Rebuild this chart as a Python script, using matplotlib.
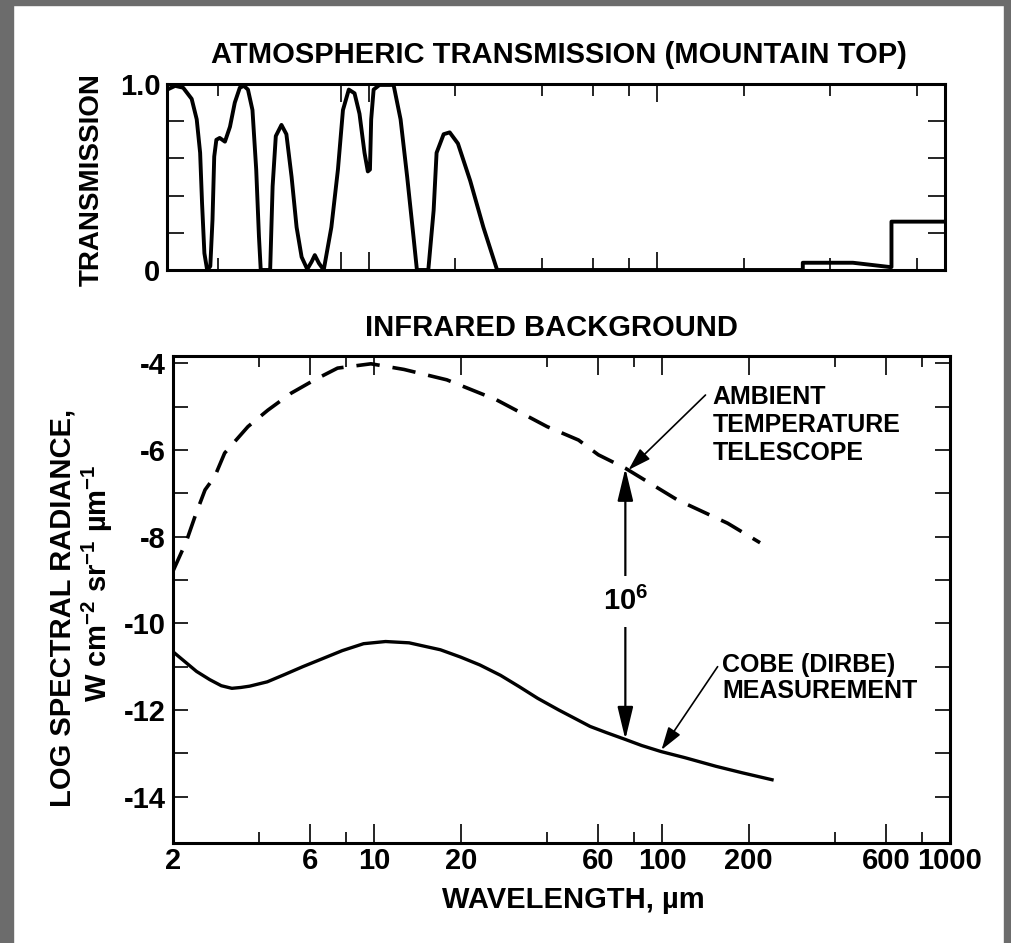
import matplotlib
matplotlib.use('Agg')
import matplotlib.pyplot as plt
from matplotlib.patches import Rectangle
from matplotlib.ticker import NullFormatter

plt.rcParams['font.family'] = ['Liberation Sans', 'DejaVu Sans']
plt.rcParams['font.weight'] = 'bold'
plt.rcParams['mathtext.fontset'] = 'custom'
plt.rcParams['mathtext.rm'] = 'Liberation Sans:bold'
plt.rcParams['mathtext.bf'] = 'Liberation Sans:bold'
plt.rcParams['mathtext.it'] = 'Liberation Sans:bold:italic'

# atmospheric transmission at a mountain-top site (wavelength in um, fraction)
trans_wl = [2.00, 2.13, 2.27, 2.43, 2.53, 2.60, 2.64, 2.69, 2.75, 2.82, 2.87, 2.91,
            2.96, 3.04, 3.17, 3.30, 3.43, 3.57, 3.69, 3.81, 3.95, 4.07, 4.16, 4.22,
            4.55, 4.64, 4.76, 4.98, 5.18, 5.40, 5.62, 5.85, 6.12, 6.34, 6.50, 6.72,
            6.98, 7.42, 7.82, 8.14, 8.53, 8.93, 9.29, 9.67, 9.93, 10.1, 10.2, 10.4,
            10.9, 12.2, 12.9, 13.6, 14.3, 14.7, 16.1, 16.8, 17.2, 18.2, 19.1, 20.4,
            22.5, 25.0, 27.9, 321, 321, 479, 643, 652, 652, 1000]
trans_val = [0.97, 0.99, 0.98, 0.92, 0.81, 0.63, 0.36, 0.09, 0.0, 0.02, 0.27, 0.61,
             0.70, 0.71, 0.69, 0.77, 0.90, 0.98, 0.99, 0.97, 0.86, 0.54, 0.18, 0.0,
             0.0, 0.45, 0.72, 0.78, 0.73, 0.50, 0.23, 0.07, 0.004, 0.045, 0.08, 0.036,
             0.0, 0.23, 0.54, 0.86, 0.97, 0.95, 0.84, 0.63, 0.53, 0.54, 0.81, 0.97,
             0.995, 0.995, 0.81, 0.50, 0.18, 0.0, 0.0, 0.32, 0.63, 0.73, 0.74, 0.68,
             0.48, 0.23, 0.0, 0.0, 0.039, 0.039, 0.016, 0.016, 0.26, 0.26]

# infrared background, log10 spectral radiance (W cm-2 sr-1 um-1)
tel_wl = [2.00, 2.23, 2.40, 2.59, 2.80, 3.03, 3.65, 4.28, 5.15, 6.22, 7.47, 9.76, 12.7,
          17.9, 26.6, 39.9, 51.3, 60.1, 74.6, 113, 169, 219]
tel_rad = [-8.81, -8.11, -7.50, -6.92, -6.61, -6.07, -5.46, -5.08, -4.69, -4.38, -4.11,
           -4.01, -4.14, -4.38, -4.84, -5.46, -5.77, -6.11, -6.42, -7.15, -7.69, -8.14]
cobe_wl = [2.00, 2.42, 2.69, 2.95, 3.21, 3.45, 3.70, 4.26, 4.9, 5.66, 6.6, 7.76, 9.2,
           10.97, 13.24, 15.0, 17.0, 20.0, 23.3, 27.5, 31.9, 37.0, 43.8, 50.0, 56.3,
           64.0, 74.6, 85.0, 99.3, 120, 154, 190, 241]
cobe_rad = [-10.65, -11.11, -11.30, -11.44, -11.50, -11.48, -11.45, -11.35, -11.18,
            -11.0, -10.82, -10.63, -10.47, -10.42, -10.45, -10.53, -10.61, -10.78,
            -10.96, -11.20, -11.46, -11.73, -12.0, -12.2, -12.38, -12.52, -12.68,
            -12.82, -12.96, -13.1, -13.30, -13.45, -13.61]

x_major = [2, 6, 10, 20, 60, 100, 200, 600, 1000]
x_labels = ['2', '6', '10', '20', '60', '100', '200', '600', '1000']
x_minor = [4, 8, 40, 80, 400, 800]
y_major = [-14, -12, -10, -8, -6, -4]
y_labels = ['-14', '-12', '-10', '-8', '-6', '-4']
y_minor = [-13, -11, -9, -7, -5]

gap_wl = 74.6  # where the telescope / COBE difference is marked

fig = plt.figure(figsize=(10.11, 9.43), dpi=100)
W, H = 1011.0, 943.0

# scanned-page border
for rect in [(0, 0, 13 / W, 1), (1 - 7 / W, 0, 7 / W, 1), (0, 1 - 5 / H, 1, 5 / H)]:
    fig.patches.append(Rectangle(rect[:2], rect[2], rect[3], transform=fig.transFigure,
                                 color='#6c6c6c', zorder=0))

# ---- top panel: transmission ----
ax1 = fig.add_axes([167.3 / W, 1 - 270 / H, 777.7 / W, 186 / H])
ax1.plot(trans_wl, trans_val, color='k', lw=2.8, solid_joinstyle='round')
ax1.set_xscale('log')
ax1.set_xlim(2, 1000)
ax1.set_ylim(0, 1)
ax1.set_xticks([8, 10, 100])
ax1.set_xticks([3, 20, 40, 60, 80, 200, 400, 800], minor=True)
ax1.xaxis.set_major_formatter(NullFormatter())
ax1.xaxis.set_minor_formatter(NullFormatter())
ax1.set_yticks([0, 1], ['0', '1.0'])
ax1.set_yticks([0.2, 0.4, 0.6, 0.8], minor=True)
ax1.tick_params(which='both', direction='in', top=True, right=True, width=1.2,
                labelsize=21, pad=5)
ax1.xaxis.set_tick_params(which='major', length=13)
ax1.xaxis.set_tick_params(which='minor', length=8.5)
ax1.yaxis.set_tick_params(which='minor', length=12)
for s in ax1.spines.values():
    s.set_linewidth(2.2)

fig.text(559 / W, 1 - 55 / H, 'ATMOSPHERIC TRANSMISSION (MOUNTAIN TOP)',
         ha='center', va='center', fontsize=21)
fig.text(92 / W, 1 - 180 / H, 'TRANSMISSION', rotation=90,
         ha='center', va='center', fontsize=20)

# ---- bottom panel: infrared background ----
ax2 = fig.add_axes([172.7 / W, 1 - 843 / H, 777.3 / W, 487 / H])
tel_line, = ax2.plot(tel_wl, tel_rad, color='k', lw=2.6)
tel_line.set_dashes((6.5, 3.6))
ax2.plot(cobe_wl, cobe_rad, color='k', lw=2.4, solid_joinstyle='round')
ax2.set_xscale('log')
ax2.set_xlim(2, 1000)
ax2.set_ylim(-15.07, -3.83)
ax2.set_xticks(x_major, x_labels)
ax2.set_xticks(x_minor, minor=True)
ax2.xaxis.set_minor_formatter(NullFormatter())
ax2.set_yticks(y_major, y_labels)
ax2.set_yticks(y_minor, minor=True)
ax2.tick_params(which='both', direction='in', top=True, right=True, width=1.2,
                labelsize=21)
ax2.tick_params(axis='x', pad=3)
ax2.tick_params(axis='y', pad=5)
ax2.xaxis.set_tick_params(which='major', length=14)
ax2.xaxis.set_tick_params(which='minor', length=8)
ax2.yaxis.set_tick_params(which='both', length=11)
for s in ax2.spines.values():
    s.set_linewidth(2.2)

# vertical double arrow between the two curves
tel_at = tel_rad[tel_wl.index(gap_wl)]
cobe_at = cobe_rad[cobe_wl.index(gap_wl)]
ax2.annotate('', xy=(gap_wl, cobe_at), xytext=(gap_wl, tel_at),
             arrowprops=dict(arrowstyle='<|-|>,head_length=1.0,head_width=0.24',
                             mutation_scale=20, lw=1.6, color='k',
                             shrinkA=0, shrinkB=0))
ax2.text(gap_wl, -9.5, '$10^6$', ha='center', va='center', fontsize=21, zorder=5,
         bbox=dict(facecolor='white', edgecolor='none', pad=8))

thin = dict(arrowstyle='-|>,head_length=0.7,head_width=0.22', mutation_scale=20,
            lw=1.2, color='k', shrinkA=0, shrinkB=0)
ax2.annotate('', xy=(76.5, -6.46), xytext=(141.6, -4.73), arrowprops=thin)
ax2.text(150, -4.5, 'AMBIENT\nTEMPERATURE\nTELESCOPE', ha='left', va='top',
         fontsize=18, linespacing=1.2)
ax2.annotate('', xy=(99.6, -12.92), xytext=(156, -11.0), arrowprops=thin)
ax2.text(162, -10.68, 'COBE (DIRBE)\nMEASUREMENT', ha='left', va='top',
         fontsize=18, linespacing=1.12)

fig.text(551 / W, 1 - 328 / H, 'INFRARED BACKGROUND', ha='center', va='center',
         fontsize=21)
fig.text(573 / W, 1 - 900 / H, 'WAVELENGTH, µm', ha='center', va='center',
         fontsize=21)
fig.text(63 / W, 1 - 608 / H, 'LOG SPECTRAL RADIANCE,', rotation=90,
         ha='center', va='center', fontsize=21)
fig.text(97 / W, 1 - 583 / H, 'W cm$^{-2}$ sr$^{-1}$ µm$^{-1}$', rotation=90,
         ha='center', va='center', fontsize=21)

fig.savefig('out.png', dpi=100, facecolor='white')
